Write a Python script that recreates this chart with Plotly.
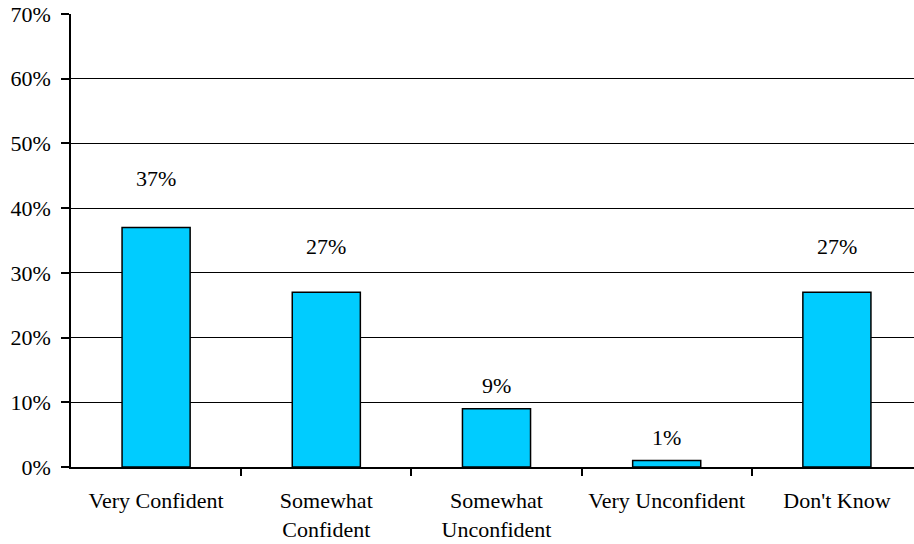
import plotly.graph_objects as go

categories = ["Very Confident", "Somewhat<br>Confident", "Somewhat<br>Unconfident",
              "Very Unconfident", "Don't Know"]
values = [37, 27, 9, 1, 27]
value_labels = ["37%", "27%", "9%", "1%", "27%"]
y_ticks = [0, 10, 20, 30, 40, 50, 60, 70]
y_tick_labels = ["0%", "10%", "20%", "30%", "40%", "50%", "60%", "70%"]

label_shift_px = [49, 46, 23, 23, 46]

FONT = dict(family="Liberation Serif", size=22, color="black")

fig = go.Figure()
fig.add_trace(go.Bar(
    x=list(range(len(categories))), y=values, width=0.4,
    marker=dict(color="#00CCFF", line=dict(color="black", width=1.5)),
    hoverinfo="skip",
))

for i, (v, t) in enumerate(zip(values, value_labels)):
    fig.add_annotation(x=i, y=v, text=t, showarrow=False, yanchor="middle",
                       yshift=label_shift_px[i], font=FONT)

fig.update_layout(
    width=914, height=544,
    margin=dict(l=71, r=0, t=14, b=77),
    paper_bgcolor="white", plot_bgcolor="white",
    showlegend=False, font=FONT, bargap=0.6,
)
fig.update_xaxes(
    tickmode="array", tickvals=list(range(len(categories))), ticktext=categories,
    range=[-0.5, 4.453], showline=True, linecolor="black", linewidth=1.5,
    showgrid=False, zeroline=False, ticks="", ticklabelstandoff=13,
    tickfont=FONT,
)
fig.update_xaxes(minor=dict(tickvals=[0.5, 1.5, 2.5, 3.5], ticks="outside",
                            ticklen=7, tickcolor="black", tickwidth=1.5, showgrid=False))
fig.update_yaxes(
    range=[0, 70], tickmode="array", tickvals=y_ticks, ticktext=y_tick_labels,
    showline=True, linecolor="black", linewidth=1.5,
    showgrid=True, gridcolor="black", gridwidth=1.2, zeroline=False,
    ticks="outside", ticklen=8, tickcolor="black", tickwidth=1.5,
    ticklabelstandoff=6, tickfont=FONT,
)

fig.write_html("out.html", config={"displayModeBar": False},
               post_script="document.body.style.margin='0';document.body.style.overflow='hidden';")
